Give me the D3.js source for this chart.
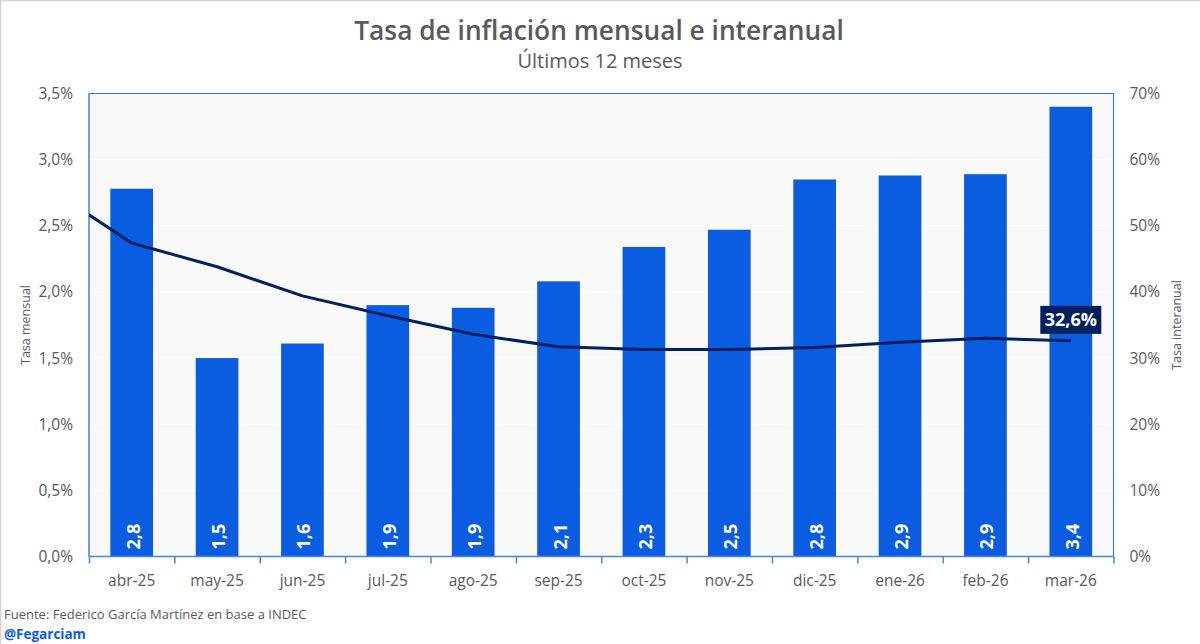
<!DOCTYPE html>
<html>
<head>
<meta charset="utf-8">
<script src="https://cdn.jsdelivr.net/npm/d3@7"></script>
<style>
  html, body { margin: 0; background: #fff; }
  svg { display: block; font-family: "Open Sans", "Noto Sans", sans-serif; }
  .tick-label { fill: #595959; font-size: 15.5px; }
  .axis-title { fill: #595959; font-size: 12.5px; }
</style>
</head>
<body>
<div id="chart"></div>
<script>
// ── Data ───────────────────────────────────────────────────────────────────
const months = ["abr-25", "may-25", "jun-25", "jul-25", "ago-25", "sep-25", "oct-25", "nov-25", "dic-25", "ene-26", "feb-26", "mar-26"];
const monthly = [2.78, 1.50, 1.61, 1.90, 1.88, 2.08, 2.34, 2.47, 2.85, 2.88, 2.89, 3.40];
const monthlyLabels = ["2,8", "1,5", "1,6", "1,9", "1,9", "2,1", "2,3", "2,5", "2,8", "2,9", "2,9", "3,4"];
// first value is mar-25, it sits left of the frame and gets clipped
const yearly = [55.9, 47.4, 43.8, 39.4, 36.4, 33.6, 31.7, 31.3, 31.3, 31.6, 32.4, 33.0, 32.6];
const leftTicks = [0, 0.5, 1, 1.5, 2, 2.5, 3, 3.5];
const rightTicks = [0, 10, 20, 30, 40, 50, 60, 70];
const lastLabel = "32,6%";

// ── Constants ──────────────────────────────────────────────────────────────
const W = 1200, H = 644;
const MARGIN = { top: 93.5, right: 86.5, bottom: 87.5, left: 89 };
const IW = W - MARGIN.left - MARGIN.right;
const IH = H - MARGIN.top - MARGIN.bottom;
const FRAME = "#2f6fe0", BAR = "#0a5ce0", LINE = "#002060";

const comma = v => v.toFixed(1).replace(".", ",") + "%";

const svg = d3.select("#chart").append("svg").attr("width", W).attr("height", H);

// outer border of the pasted chart
svg.append("path").attr("d", `M0.5,${H}V0.5H${W}`).attr("fill", "none").attr("stroke", "#d2d2d2").attr("stroke-width", 1.5);

svg.append("text").attr("x", 599).attr("y", 40).attr("text-anchor", "middle")
  .attr("fill", "#595959").attr("font-size", 26.3).attr("font-weight", 600).text("Tasa de inflación mensual e interanual");
svg.append("text").attr("x", 600).attr("y", 68).attr("text-anchor", "middle")
  .attr("fill", "#595959").attr("font-size", 20).text("Últimos 12 meses");

const g = svg.append("g").attr("transform", `translate(${MARGIN.left},${MARGIN.top})`);

// ── Scales ─────────────────────────────────────────────────────────────────
const x = d3.scaleBand().domain(months).range([0, IW]).paddingInner(0.5).paddingOuter(0.25);
const xIdx = d3.scaleLinear().domain([-0.5, 11.5]).range([0, IW]);
const yL = d3.scaleLinear().domain([0, 3.5]).range([IH, 0]);
const yR = d3.scaleLinear().domain([0, 70]).range([IH, 0]);

// ── Plot background and grid ───────────────────────────────────────────────
g.append("rect").attr("width", IW).attr("height", IH).attr("fill", "#f9f9f9");
g.selectAll(".grid").data(leftTicks.slice(1, -1)).enter().append("line")
  .attr("x1", 0).attr("x2", IW).attr("y1", d => yL(d)).attr("y2", d => yL(d))
  .attr("stroke", "#ffffff").attr("stroke-width", 1);

// ── Bars ───────────────────────────────────────────────────────────────────
g.selectAll(".bar").data(months).enter().append("rect")
  .attr("x", d => x(d)).attr("width", x.bandwidth())
  .attr("y", (d, i) => yL(monthly[i])).attr("height", (d, i) => IH - yL(monthly[i]))
  .attr("fill", BAR);

// ── Frame and axes ─────────────────────────────────────────────────────────
g.append("rect").attr("width", IW).attr("height", IH).attr("fill", "none").attr("stroke", FRAME).attr("stroke-width", 1);
g.append("line").attr("x1", 0).attr("x2", 0).attr("y1", 0).attr("y2", IH).attr("stroke", "#6d9eeb").attr("stroke-width", 2);
g.append("line").attr("x1", 0).attr("x2", IW).attr("y1", IH).attr("y2", IH).attr("stroke", "#4a84e4").attr("stroke-width", 1.5);

// tick marks sit on the category boundaries
const tickAxis = d3.axisBottom(xIdx).tickValues(d3.range(-0.5, 12, 1)).tickSize(7).tickFormat("");
const tickG = g.append("g").attr("transform", `translate(0,${IH})`).call(tickAxis);
tickG.select(".domain").remove();
tickG.selectAll("line").attr("stroke", "#4a84e4").attr("stroke-width", 1.5);

// d3 axes set their own font on the group, drop it so the svg font applies
function styleAxis(sel) {
  sel.attr("font-family", null).attr("font-size", null);
  sel.select(".domain").remove();
  sel.selectAll("text").attr("class", "tick-label");
}

g.append("g").attr("transform", `translate(0,${IH})`)
  .call(d3.axisBottom(x).tickSize(0).tickPadding(18)).call(styleAxis);
g.append("g")
  .call(d3.axisLeft(yL).tickValues(leftTicks).tickFormat(comma).tickSize(0).tickPadding(16)).call(styleAxis);
g.append("g").attr("transform", `translate(${IW},0)`)
  .call(d3.axisRight(yR).tickValues(rightTicks).tickFormat(d => d + "%").tickSize(0).tickPadding(16)).call(styleAxis);

svg.append("text").attr("class", "axis-title").attr("transform", "translate(30,325) rotate(-90)")
  .attr("text-anchor", "middle").text("Tasa mensual");
svg.append("text").attr("class", "axis-title").attr("transform", "translate(1181,325) rotate(-90)")
  .attr("text-anchor", "middle").text("Tasa interanual");

// ── Line ───────────────────────────────────────────────────────────────────
svg.append("clipPath").attr("id", "plot-clip").append("rect").attr("width", IW).attr("height", IH);
const line = d3.line().x((d, i) => xIdx(i - 1)).y(d => yR(d));
g.append("path").datum(yearly).attr("clip-path", "url(#plot-clip)")
  .attr("fill", "none").attr("stroke", LINE).attr("stroke-width", 3).attr("stroke-linejoin", "round").attr("d", line);

// ── Bar labels ─────────────────────────────────────────────────────────────
g.selectAll(".bar-label").data(months).enter().append("text")
  .attr("transform", d => `translate(${x(d) + x.bandwidth() / 2 + 1.5},${IH - 7}) rotate(-90)`)
  .attr("dy", "0.36em").attr("fill", "#fff").attr("font-size", 18).attr("font-weight", 700)
  .text((d, i) => monthlyLabels[i]);

// ── Last value tag ─────────────────────────────────────────────────────────
const tagX = xIdx(11), tagY = yR(yearly[yearly.length - 1]) - 21;
g.append("rect").attr("x", tagX - 30.5).attr("y", tagY - 14).attr("width", 61).attr("height", 28).attr("fill", LINE);
g.append("text").attr("x", tagX).attr("y", tagY).attr("dy", "0.36em").attr("text-anchor", "middle")
  .attr("fill", "#fff").attr("font-size", 18).attr("font-weight", 700).text(lastLabel);

// ── Footer ─────────────────────────────────────────────────────────────────
svg.append("text").attr("x", 4).attr("y", 619).attr("fill", "#595959").attr("font-size", 13)
  .text("Fuente: Federico García Martínez en base a INDEC");
svg.append("text").attr("x", 4).attr("y", 639).attr("fill", "#0a5ce0").attr("font-size", 13.5).attr("font-weight", 700)
  .text("@Fegarciam");
</script>
</body>
</html>
